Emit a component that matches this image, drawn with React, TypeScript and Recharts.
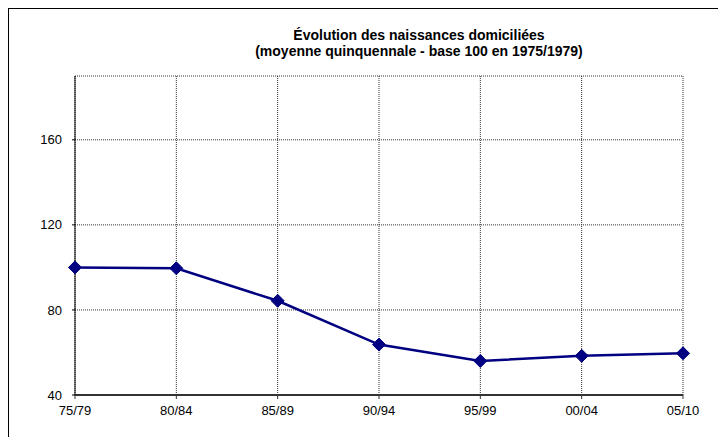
import React from 'react';
import { LineChart, Line, XAxis, YAxis, CartesianGrid } from 'recharts';

const periods = ['75/79', '80/84', '85/89', '90/94', '95/99', '00/04', '05/10'];
const naissances = [100, 99.6, 84.3, 63.7, 56, 58.4, 59.6];
const yTicks = [40, 80, 120, 160];
const yDomain = [40, 190];
const titleLines = ['Évolution des naissances domiciliées', '(moyenne quinquennale - base 100 en 1975/1979)'];

const data = periods.map((p, i) => ({ period: p, value: naissances[i] }));

const FONT = '"Liberation Sans", Arial, Helvetica, sans-serif';
const NAVY = '#000080';

const Diamond = (props: any) => {
  const { cx, cy } = props;
  if (cx == null || cy == null) return null;
  const r = 6.5;
  return (
    <polygon
      points={`${cx},${cy - r} ${cx + r},${cy} ${cx},${cy + r} ${cx - r},${cy}`}
      fill={NAVY}
      stroke={NAVY}
      strokeWidth={1}
    />
  );
};

export default function App() {
  return (
    <div style={{ position: 'relative', width: 718, height: 429, fontFamily: FONT }}>
      <style>{'html,body{overflow:hidden;}'}</style>
      <div
        style={{
          position: 'absolute',
          left: 0,
          top: -1,
          width: 718,
          height: 438,
          borderTop: '2px solid #000',
          borderLeft: '1px solid #000',
          boxSizing: 'border-box',
          pointerEvents: 'none',
        }}
      />
      <div
        style={{
          position: 'absolute',
          left: 411 - 300,
          width: 600,
          top: 19,
          textAlign: 'center',
          fontWeight: 'bold',
          fontSize: 14,
          lineHeight: '16px',
          color: '#000',
        }}
      >
        {titleLines.map((t) => (
          <div key={t}>{t}</div>
        ))}
      </div>
      <div style={{ position: 'absolute', left: 0, top: 0 }}>
        <LineChart
          width={718}
          height={437}
          data={data}
          margin={{ top: 68, right: 43, bottom: 20, left: 10 }}
        >
          <CartesianGrid stroke="#333" strokeDasharray="1 1" vertical horizontal />
          <XAxis
            dataKey="period"
            interval={0}
            height={30}
            tickSize={4}
            tickMargin={7}
            axisLine={{ stroke: '#333', strokeWidth: 2 }}
            tickLine={{ stroke: '#333' }}
            tick={{ fill: '#000', fontSize: 13, fontFamily: FONT }}
          />
          <XAxis
            xAxisId="top"
            orientation="top"
            dataKey="period"
            height={0}
            tick={false}
            tickLine={false}
            axisLine={{ stroke: '#000', strokeWidth: 1 }}
          />
          <YAxis
            type="number"
            domain={yDomain}
            ticks={yTicks}
            interval={0}
            width={57}
            tickSize={3}
            tickMargin={10}
            axisLine={{ stroke: '#000', strokeWidth: 1 }}
            tickLine={{ stroke: '#000' }}
            tick={{ fill: '#000', fontSize: 13, fontFamily: FONT }}
          />
          <YAxis
            yAxisId="right"
            orientation="right"
            type="number"
            domain={yDomain}
            width={0}
            tick={false}
            tickLine={false}
            axisLine={{ stroke: '#000', strokeWidth: 1 }}
          />
          <Line
            type="linear"
            dataKey="value"
            stroke={NAVY}
            strokeWidth={2.5}
            dot={<Diamond />}
            activeDot={false}
            isAnimationActive={false}
          />
        </LineChart>
      </div>
    </div>
  );
}
